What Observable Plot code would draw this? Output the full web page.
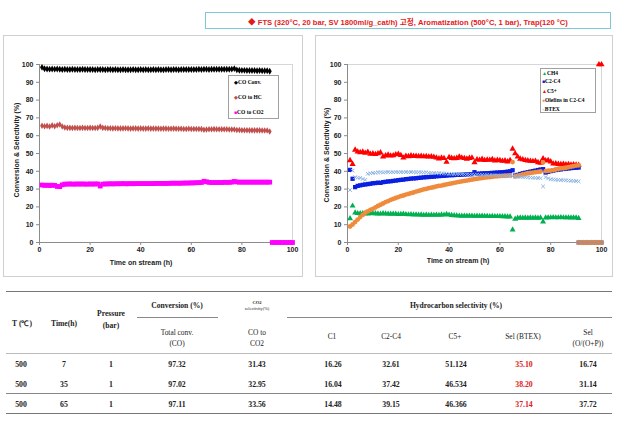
<!DOCTYPE html>
<html><head><meta charset="utf-8">
<script src="https://cdn.jsdelivr.net/npm/d3@7"></script>
<script src="https://cdn.jsdelivr.net/npm/@observablehq/plot@0.6"></script>
<style>
body{margin:0;background:#fff;}
#root{position:relative;width:621px;height:421px;overflow:hidden;background:#fff;font-family:Arial,"Liberation Sans","Noto Sans CJK KR",sans-serif;}
.abs{position:absolute;white-space:nowrap;}
.panel{position:absolute;border:1px solid #cfcfcf;box-sizing:border-box;}
.ylab{position:absolute;font:bold 7px Arial,"Liberation Sans",sans-serif;color:#222;transform:translate(-50%,-50%) rotate(-90deg);white-space:nowrap;}
.xlab{position:absolute;font:bold 7px Arial,"Liberation Sans",sans-serif;color:#222;transform:translate(-50%,-50%);white-space:nowrap;}
.legend{position:absolute;border:1px solid #a0a0a0;background:#fff;box-sizing:border-box;}
.lg{position:absolute;font:bold 5.5px "Liberation Serif","Times New Roman",serif;color:#000;white-space:nowrap;transform:translateY(-50%);}
.tc{position:absolute;transform:translate(-50%,-50%);white-space:nowrap;font-family:"Liberation Serif","Times New Roman",serif;color:#222;text-align:center;}
.hl{position:absolute;height:0;}
svg{position:absolute;}
</style></head><body><div id="root"></div>
<script>
// ---------- data ----------
const xTicks = [0,20,40,60,80,100];
const yTicks = [0,10,20,30,40,50,60,70,80,90,100];
const hours = [1,2,3,4,5,6,7,8,9,10,11,12,13,14,15,16,17,18,19,20,21,22,23,24,25,26,27,28,29,30,31,32,33,34,35,36,37,38,39,40,41,42,43,44,45,46,47,48,49,50,51,52,53,54,55,56,57,58,59,60,61,62,63,64,65,66,67,68,69,70,71,72,73,74,75,76,77,78,79,80,81,82,83,84,85,86,87,88,89,90,91];

// left chart
const coConv = [98.4,97.6,97.5,97.4,97.5,97.4,97.5,97.3,97.2,97.3,
 97.2,97.2,97.3,97.2,97.2,97.2,97.3,97.2,97.2,97.2,
 97.2,97.1,97.2,97.2,97.2,97.1,97.2,97.2,97.1,97.2,
 97.1,97.1,97.2,97.1,97.1,97.1,97.2,97.1,97.1,97.2,
 97.1,97.2,97.1,97.1,97.2,97.1,97.2,97.1,97.1,97.2,
 97.2,97.1,97.2,97.2,97.1,97.2,97.2,97.2,97.2,97.2,
 97.2,97.2,97.3,97.2,97.3,97.3,97.2,97.3,97.3,97.3,
 97.3,97.3,97.3,97.3,97.3,97.4,97.7,97.0,96.8,96.7,
 96.7,96.6,96.6,96.6,96.6,96.5,96.6,96.5,96.5,96.5,
 96.2];
const coToHC = [65.6,65.3,65.5,65.2,65.8,65.3,65.9,66.3,65.2,64.6,
 64.4,64.4,64.3,64.4,64.3,64.3,64.4,64.3,64.3,64.4,
 64.3,64.3,64.4,65.1,64.4,64.3,64.2,64.2,64.1,64.2,
 64.1,64.1,64.1,64.2,64.1,64.0,64.1,64.1,64.0,64.1,
 64.0,64.0,64.1,64.0,64.0,64.0,64.0,63.9,64.0,64.0,
 63.9,63.9,64.0,63.9,63.9,63.9,63.8,63.8,63.9,63.8,
 63.8,63.8,63.8,63.7,63.3,63.5,63.6,63.6,63.7,63.6,
 63.6,63.6,63.6,63.6,63.5,63.5,63.5,63.2,63.2,63.1,
 63.1,63.1,63.0,63.0,63.0,63.0,63.0,62.9,62.9,62.9,
 62.4];
const coToCO2 = [32.3,32.1,32.2,32.0,32.2,32.1,31.5,31.4,32.4,32.8,
 32.8,32.9,32.8,32.8,32.9,32.8,32.9,32.8,32.8,32.9,
 32.8,32.9,32.9,31.7,32.8,32.9,32.9,33.0,32.9,33.0,
 33.0,33.0,33.1,33.0,33.0,33.1,33.0,33.1,33.1,33.1,
 33.1,33.1,33.1,33.1,33.1,33.2,33.2,33.2,33.2,33.2,
 33.2,33.3,33.3,33.3,33.3,33.3,33.4,33.4,33.4,33.5,
 33.5,33.6,33.6,33.7,34.4,34.1,33.8,33.7,33.7,33.7,
 33.7,33.7,33.8,33.8,33.8,33.9,34.3,34.0,33.9,33.9,
 33.9,33.9,33.9,33.9,33.9,33.9,33.9,33.9,33.9,33.9,
 33.9];
const zeroHoursL = [92,93,94,95,96,97,98,99,100];
const zeroValsL  = [0,0,0,0,0,0,0,0,0];

// right chart
const ch4 = [13.5,20.6,16.7,16.4,16.3,16.4,16.3,16.2,16.4,16.3,
 16.3,16.2,16.1,16.3,16.2,16.1,16.0,16.1,16.0,15.8,
 15.9,16.0,15.8,15.7,15.8,15.6,15.7,15.5,15.6,15.4,
 15.5,15.4,15.5,15.4,15.5,15.4,15.6,15.5,15.9,15.5,
 15.3,15.2,15.1,15.0,14.9,15.0,14.9,15.0,14.9,14.8,
 14.9,14.8,14.9,14.8,14.8,14.7,14.8,14.7,14.7,14.7,
 14.6,14.6,14.5,14.5,7.2,13.2,13.8,13.9,13.8,13.9,
 13.8,13.9,13.8,13.9,13.8,13.9,11.7,13.9,14.0,14.0,
 14.1,14.0,14.0,14.1,14.0,14.0,14.0,13.9,14.0,13.9,
 13.6];
const c2c4 = [40.8,35.8,31.1,31.8,32.1,32.4,32.6,32.8,33.0,33.3,
 33.4,33.6,33.5,33.9,34.1,34.3,34.4,34.6,34.8,35.0,
 35.2,35.3,35.6,35.7,35.9,36.0,36.1,36.3,36.4,36.6,
 36.7,36.8,36.9,37.0,37.2,37.3,37.4,37.5,37.6,37.8,
 37.8,37.9,38.0,38.0,38.1,38.2,38.3,38.4,38.4,39.5,
 38.6,38.7,38.8,38.9,38.9,39.0,39.1,39.2,39.3,39.4,
 39.5,39.6,39.8,40.0,40.6,37.6,38.0,38.5,38.9,39.2,
 39.5,39.8,40.1,40.4,40.7,41.0,41.2,39.3,39.7,40.1,
 40.4,40.7,40.9,41.1,41.3,41.5,41.6,41.8,41.9,42.0,
 42.1];
const c5plus = [46.1,44.0,52.0,51.0,50.6,50.9,50.3,50.8,49.7,49.9,
 49.6,50.0,50.5,48.2,48.8,49.3,48.7,48.9,49.4,49.7,
 49.0,47.6,48.6,48.4,48.8,48.5,48.6,48.4,48.5,48.3,
 48.4,48.2,48.3,48.0,47.6,47.1,47.5,47.3,45.2,47.9,
 47.4,47.2,47.4,48.2,47.6,47.3,47.0,47.4,47.6,44.9,
 46.6,46.3,46.8,46.2,46.5,46.3,46.7,46.0,46.3,46.1,
 45.8,46.0,45.4,46.2,52.6,50.0,48.2,47.0,46.6,46.2,
 46.0,45.8,45.6,45.8,45.0,44.7,47.1,46.0,46.2,45.4,
 44.2,44.4,44.0,43.9,44.1,43.8,43.9,43.7,43.8,43.6,
 43.5];
const olefins = [9.0,10.1,11.5,12.9,14.3,15.5,16.7,17.5,18.3,18.9,
 19.7,20.5,21.2,21.9,22.7,23.3,23.9,24.5,25.0,25.5,
 26.0,26.4,26.9,27.3,27.7,28.1,28.6,29.0,29.4,29.8,
 30.1,30.5,30.8,31.1,31.5,31.8,32.0,32.3,32.6,32.9,
 33.2,33.5,33.8,34.1,34.3,34.6,34.8,35.1,35.3,35.6,
 35.8,36.0,36.2,36.4,36.6,36.7,36.9,37.1,37.2,37.3,
 37.4,37.5,37.6,37.7,45.2,37.1,37.5,37.9,38.3,38.6,
 38.9,39.1,39.3,39.5,39.7,39.9,45.0,40.1,40.3,40.4,
 40.7,41.0,41.3,41.6,41.7,42.0,42.3,42.6,42.9,43.2,
 43.4];
const btex = [29.5,40.4,36.7,36.4,36.3,35.7,35.2,38.6,38.9,39.1,
 39.2,39.4,39.5,39.3,39.5,39.6,39.4,39.5,39.6,39.5,
 39.6,39.5,39.6,39.5,39.6,39.5,39.4,39.5,39.4,39.3,
 39.4,39.2,39.1,39.0,39.0,38.9,38.8,38.8,38.7,38.6,
 38.6,38.5,38.5,38.4,38.4,38.3,38.3,38.2,38.2,38.1,
 38.1,38.0,38.0,37.9,37.9,37.8,37.8,37.7,37.7,37.6,
 37.6,37.5,37.4,37.3,37.1,37.0,37.0,36.9,36.8,36.7,
 36.6,36.5,36.4,36.3,36.2,36.1,31.5,36.7,36.0,35.5,
 35.4,35.3,35.2,35.1,35.0,34.9,34.8,34.7,34.6,34.5,
 34.3];
const zeroHoursR = [91,92,93,94,95,96,97,98,99,100];
const zeroValsR  = [0,0,0,0,0,0,0,0,0,0];
const c5TopHours = [99,100];
const c5TopVals  = [100,100];

// table
const tTemp = ["500","500","500"];
const tTime = ["7","35","65"];
const tPress = ["1","1","1"];
const tConv = ["97.32","97.02","97.11"];
const tCO2 = ["31.43","32.95","33.56"];
const tC1 = ["16.26","16.04","14.48"];
const tC2C4 = ["32.61","37.42","39.15"];
const tC5 = ["51.124","46.534","46.366"];
const tBTEX = ["35.10","38.20","37.14"];
const tOlef = ["16.74","31.14","37.72"];

const titleText = "◆ FTS (320°C, 20 bar, SV 1800ml/g_cat/h) 고정, Aromatization (500°C, 1 bar), Trap(120 °C)";

// ---------- helpers ----------
const root = document.getElementById("root");
const pts = (xs, ys) => xs.map((x, i) => ({x, y: ys[i]}));
function el(cls, css, html){const d=document.createElement("div");d.className=cls;Object.assign(d.style,css);if(html!==undefined)d.innerHTML=html;root.appendChild(d);return d;}

function axes(){
  return [
    Plot.frame({stroke:"#d6d6d6"}),
    Plot.axisY({ticks:yTicks, tickSize:3, tickPadding:3, stroke:"#8c8c8c", fill:"#222", fontWeight:"bold", fontSize:7, fontFamily:"Arial, Liberation Sans, sans-serif", label:null}),
    Plot.axisX({ticks:xTicks, tickSize:3, tickPadding:2, stroke:"#8c8c8c", fill:"#222", fontWeight:"bold", fontSize:7, fontFamily:"Arial, Liberation Sans, sans-serif", label:null}),
    Plot.ruleX([0],{stroke:"#8c8c8c"}),
    Plot.ruleY([0],{stroke:"#8c8c8c"})
  ];
}

// ---------- title ----------
el("abs",{left:"205px",top:"12px",width:"406px",height:"17px",border:"1px solid #7cc8d4",boxSizing:"border-box"});
el("abs",{left:"408px",top:"20.5px",transform:"translate(-50%,-50%)",font:"bold 7.6px Arial, 'Liberation Sans', 'Noto Sans CJK KR', sans-serif",color:"#e31a1a"}, titleText);

// ---------- panels ----------
el("panel",{left:"3px",top:"35px",width:"300px",height:"242px"});
el("panel",{left:"315px",top:"35px",width:"298px",height:"242px"});

// left chart
const left = Plot.plot({
  width:300, height:242, marginLeft:36, marginRight:11, marginTop:29, marginBottom:35,
  x:{domain:[0,100]}, y:{domain:[0,100]},
  style:{background:"transparent", overflow:"visible"},
  marks:[
    ...axes(),
    Plot.dot(pts(zeroHoursL, zeroValsL),{x:"x",y:"y",symbol:"square",fill:"#ff00ff",r:2.7}),
    Plot.dot(pts(hours, coToCO2),{x:"x",y:"y",symbol:"square",fill:"#ff00ff",r:2.7}),
    Plot.dot(pts(hours, coToHC),{x:"x",y:"y",symbol:"diamond",fill:"#c0504d",r:2}),
    Plot.dot(pts(hours, coConv),{x:"x",y:"y",symbol:"diamond",fill:"#000",r:2.1})
  ]
});
left.style.left="3px"; left.style.top="35px";
root.appendChild(left);

// right chart
const right = Plot.plot({
  width:298, height:242, marginLeft:32, marginRight:12, marginTop:29, marginBottom:35,
  x:{domain:[0,100]}, y:{domain:[0,100]},
  style:{background:"transparent", overflow:"visible"},
  marks:[
    ...axes(),
    Plot.dot(pts(zeroHoursR, zeroValsR),{x:"x",y:"y",symbol:"square",fill:"#8a8fb8",r:2.6}),
    Plot.dot(pts(zeroHoursR, zeroValsR),{x:"x",y:"y",symbol:"circle",fill:"none",stroke:"#e8853a",strokeWidth:0.8,r:2.2}),
    Plot.dot(pts(hours, ch4),{x:"x",y:"y",symbol:"triangle",fill:"#00b050",r:2.2}),
    Plot.dot(pts(hours, c2c4),{x:"x",y:"y",symbol:"square",fill:"#0a1fe0",r:2.4}),
    Plot.dot(pts(hours, c5plus),{x:"x",y:"y",symbol:"triangle",fill:"#ff0000",r:2.3}),
    Plot.dot(pts(c5TopHours, c5TopVals),{x:"x",y:"y",symbol:"triangle",fill:"#ff0000",r:2.3}),
    Plot.dot(pts(hours, olefins),{x:"x",y:"y",symbol:"circle",fill:"#ef8b3c",r:2.4}),
    Plot.dot(pts(hours, btex),{x:"x",y:"y",symbol:"times",stroke:"#8db4e2",strokeWidth:1,r:1.8})
  ]
});
right.style.left="315px"; right.style.top="35px";
root.appendChild(right);

// axis titles
el("ylab",{left:"16px",top:"150px"},"Conversion &amp; Selectivity (%)");
el("ylab",{left:"326px",top:"155px"},"Conversion &amp; Selectivity (%)");
el("xlab",{left:"141px",top:"262px"},"Time on stream (h)");
el("xlab",{left:"458px",top:"259.5px"},"Time on stream (h)");

// legends
el("legend",{left:"228px",top:"75px",width:"51px",height:"44px"});
const legL = [["◆","#000","CO Conv.",82],["◆","#c0504d","CO to HC",97],["■","#ff00ff","CO to CO2",112]];
legL.forEach(([s,c,t,y])=>el("lg",{left:"234px",top:y+"px"},`<span style="color:${c};font-size:5px">${s}</span>${t}`));
el("legend",{left:"540px",top:"68px",width:"56px",height:"45px"});
const legR = [["▲","#00b050","CH4",72.5],["■","#0a1fe0","C2-C4",81.3],["▲","#ff0000","C5+",90.5],["●","#ef8b3c","Olefins in C2-C4",99.7],["×","#8db4e2","BTEX",108.8]];
legR.forEach(([s,c,t,y])=>el("lg",{left:"542px",top:y+"px"},`<span style="color:${c};font-size:5px">${s}</span>${t}`));

// ---------- table ----------
const lines = [[6,612,291.5,1.5,"#777"],[137,218,317,1,"#888"],[287,612,317,1,"#888"],[6,612,353,0.8,"#bbb"],[6,612,393.5,1.2,"#888"],[6,612,413.5,1.5,"#777"]];
lines.forEach(([x1,x2,y,w,c])=>el("hl",{left:x1+"px",top:(y-w/2)+"px",width:(x2-x1)+"px",borderTop:w+"px solid "+c}));
const hb = "bold 7.6px 'Liberation Serif','Times New Roman',serif";
const hn = "7.4px 'Liberation Serif','Times New Roman',serif";
const head = [
  ["T (℃)",22,323,hb],["Time(h)",64,323,hb],["Pressure",111,313,hb],["(bar)",111,324.5,hb],
  ["Conversion (%)",177,305,hb],["CO2",257,302,"bold 4.6px 'Liberation Serif',serif"],["selectivity(%)",257,308,"4.4px 'Liberation Serif',serif"],
  ["Hydrocarbon selectivity (%)",456,305,hb],
  ["Total conv.",177,332,hn],["(CO)",177,342.5,hn],["CO to",257,332,hn],["CO2",257,342.5,hn],
  ["C1",332,336,hn],["C2-C4",391,336,hn],["C5+",455,336,hn],["Sel (BTEX)",523,336,hn],
  ["Sel",588,332,hn],["(O/(O+P))",588,342.5,hn]
];
head.forEach(([t,x,y,f])=>el("tc",{left:x+"px",top:y+"px",font:f},t));
const cols = [tTemp,tTime,tPress,tConv,tCO2,tC1,tC2C4,tC5,tBTEX,tOlef];
const colX = [21,64,111,177,257,333,391,456,524,588];
const rowY = [363.5,383.5,403.5];
cols.forEach((col,ci)=>col.forEach((v,ri)=>el("tc",{left:colX[ci]+"px",top:rowY[ri]+"px",font:"bold 7.8px 'Liberation Serif','Times New Roman',serif",color:ci===8?"#e02020":"#222"},v)));
</script></body></html>
